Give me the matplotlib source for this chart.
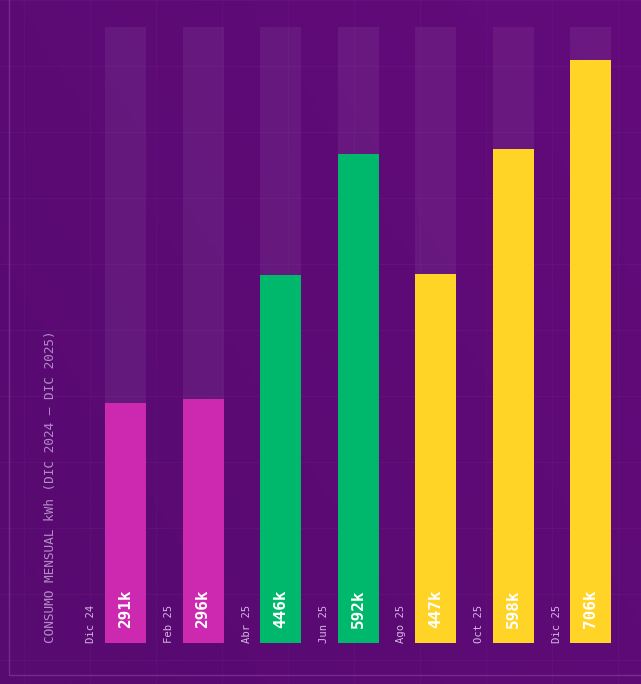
import matplotlib
matplotlib.use("Agg")
import matplotlib.pyplot as plt
import numpy as np
from matplotlib.patches import Rectangle

months = ["Dic 24", "Feb 25", "Abr 25", "Jun 25", "Ago 25", "Oct 25", "Dic 25"]
values = [291, 296, 446, 592, 447, 598, 706]
value_labels = ["291k", "296k", "446k", "592k", "447k", "598k", "706k"]
bar_colors = ["#cc28b0", "#cc28b0", "#00b86b", "#00b86b", "#ffd426", "#ffd426", "#ffd426"]
track_max = 746
y_title = "CONSUMO MENSUAL kWh (DIC 2024 — DIC 2025)"

W, H = 641, 684
fig = plt.figure(figsize=(W / 100, H / 100), dpi=100)

# background gradient
bg = fig.add_axes([0, 0, 1, 1])
bg.set_axis_off()
gx = np.linspace(0, 1, 200)
gy = np.linspace(0, 1, 200)
GX, GY = np.meshgrid(gx, gy)
c1 = np.array([0x57, 0x0a, 0x70]) / 255
c2 = np.array([0x63, 0x0a, 0x7b]) / 255
t = (0.6 * GX + 0.4 * (1 - GY))[..., None]
img = c1 * (1 - t) + c2 * t
bg.imshow(img, extent=[0, W, H, 0], aspect="auto", origin="upper")
bg.set_xlim(0, W)
bg.set_ylim(H, 0)
# faint grid
for gxp in np.arange(24, W, 66):
    bg.axvline(gxp, color="#9a5ab0", lw=0.8, alpha=0.07)
for gyp in np.arange(0, H, 66):
    bg.axhline(gyp, color="#9a5ab0", lw=0.8, alpha=0.09)
# frame
bg.add_patch(Rectangle((9, -5), W, 675 + 5, fill=False, ec="#8a4aa0", lw=1.0, alpha=0.55))

# main axes: baseline at 643 px from top, track top at 27 px
base_px, top_px = 643, 27
ax = fig.add_axes([0, (H - base_px) / H, 1, (base_px - top_px) / H])
ax.patch.set_alpha(0)
spacing = 77.5
c0 = 125.5
ax.set_xlim(-c0 / spacing, (W - c0) / spacing)
ax.set_ylim(0, track_max)
ax.set_axis_off()

x = np.arange(len(months))
width = 41 / spacing
ax.bar(x, [track_max] * len(x), width=width, color="#ffffff", alpha=0.06, zorder=1)
ax.bar(x, values, width=width, color=bar_colors, zorder=2)

px_to_val = track_max / (base_px - top_px)
for i, (m, lab) in enumerate(zip(months, value_labels)):
    ax.text(i - 34 / spacing, 0, m, rotation=90, ha="center", va="bottom",
            family="DejaVu Sans Mono", fontsize=7.6, color="#d4b6e2", clip_on=False, zorder=3)
    ax.text(i, 15 * px_to_val, lab, rotation=90, ha="center", va="bottom",
            family="DejaVu Sans Mono", fontweight="bold", fontsize=11.5, color="white",
            clip_on=False, zorder=3)

ax.text((51 - c0) / spacing, 0, y_title, rotation=90, ha="center", va="bottom",
        family="DejaVu Sans Mono", fontsize=9.2, color="#b48ac8", clip_on=False, zorder=3)

fig.savefig("out.png", dpi=100)
